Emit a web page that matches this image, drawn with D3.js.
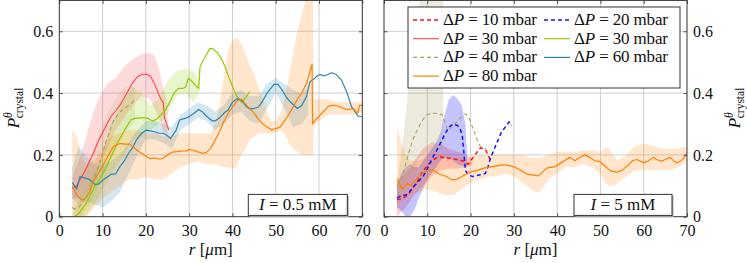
<!DOCTYPE html>
<html>
<head>
<meta charset="utf-8">
<script src="https://cdn.jsdelivr.net/npm/d3@7"></script>
<style>
body { margin: 0; background: #fff; }
svg text { font-family: 'Liberation Serif', serif; fill: #111; }
</style>
</head>
<body>
<svg id="chart" width="747" height="263"></svg>
<script>
// ---- I = 0.5 mM (left panel) ----
var redA_r  = [3,4,5,6,7,8,9,10,11,12,13,14,15,16,17,18,19,20,21,22,23,23.5,24,24.3,25.3];
var redA_p  = [0.09,0.10,0.125,0.15,0.18,0.21,0.245,0.272,0.30,0.325,0.342,0.36,0.385,0.41,0.435,0.452,0.46,0.462,0.455,0.43,0.395,0.38,0.37,0.32,0.28];
var redA_br = [3,5,7,9,11,13,15,17,19,21,22,23,24,25];
var redA_hi = [0.13,0.2,0.3,0.38,0.43,0.45,0.485,0.51,0.525,0.53,0.52,0.48,0.42,0.36];
var redA_lo = [0.06,0.06,0.09,0.15,0.22,0.28,0.32,0.36,0.39,0.38,0.35,0.32,0.28,0.26];

var oliveA_r  = [3,3.5,4.5,5.5,6.5,7.5,8.5,9.5,10.5,11.5,12.5,13.5,14.5,15.5,16.5,17.5];
var oliveA_p  = [0.03,0.025,0.03,0.05,0.07,0.1,0.14,0.18,0.23,0.27,0.31,0.33,0.345,0.355,0.365,0.378];
var oliveA_br = [3,5,7,9,11,13,15,17.5];
var oliveA_hi = [0.08,0.12,0.18,0.26,0.33,0.38,0.42,0.42];
var oliveA_lo = [0.0,0.0,0.04,0.1,0.16,0.22,0.27,0.31];

var greenA_r  = [3.5,4.5,5.5,6.5,7.5,8.5,9.5,10.5,11.5,12.5,13.5,14.5,15.5,16.5,17.5,18.5,19.5,20.5,21.5,22.5,23.5,24.5,25.5,26.5,27.5,28.5,29.2,29.8,30.5,31.5,32.2,32.5,33.5,34.8,35.5,36.7,37.5,38.3,39.2,40.2,41,42.1,43,44];
var greenA_p  = [0.0,0.01,0.03,0.05,0.08,0.105,0.125,0.15,0.18,0.21,0.24,0.265,0.29,0.313,0.318,0.32,0.32,0.318,0.31,0.315,0.33,0.345,0.37,0.40,0.415,0.415,0.42,0.448,0.44,0.425,0.415,0.485,0.512,0.545,0.543,0.528,0.51,0.485,0.45,0.415,0.39,0.37,0.385,0.405];
var greenA_br = [3.5,6,9,12,15,17,19,21,23,25,27,29,31,32.4];
var greenA_hi = [0.03,0.08,0.17,0.3,0.38,0.42,0.4,0.36,0.38,0.44,0.47,0.48,0.47,0.44];
var greenA_lo = [0,0,0.06,0.14,0.2,0.25,0.26,0.28,0.3,0.33,0.39,0.4,0.37,0.4];

var tealA_r  = [3,4,4.8,6,7,8.2,9,10.2,11,12.1,13,14,15,15.9,17,17.8,19,20,21,22,23,24,25,25.7,27,27.8,29,30,31,32.2,33,34,35.4,36,37,38.3,39,40,41,42,43,43.8,45,46,47,48,49.6,50.5,51.5,52.5,53.7,55,56,57.1,57.9,58.8,59.5,60.2,61.3,62.9,64,65.2,66.5,67.5,69,69.8];
var tealA_p  = [0.11,0.09,0.13,0.125,0.12,0.105,0.105,0.12,0.128,0.138,0.138,0.162,0.18,0.203,0.225,0.248,0.27,0.28,0.278,0.275,0.27,0.27,0.262,0.253,0.28,0.313,0.318,0.324,0.333,0.347,0.34,0.325,0.31,0.31,0.32,0.338,0.345,0.37,0.382,0.378,0.36,0.35,0.35,0.355,0.375,0.40,0.428,0.428,0.41,0.385,0.367,0.35,0.36,0.388,0.437,0.445,0.455,0.46,0.456,0.466,0.46,0.442,0.40,0.356,0.326,0.324];
var tealA_br = [3,4.5,6,8,10,12,14,16,18,20,22,24,26,28,30,32,34,36,38,40,42,44,46,48,50,52,54,56,57.5];
var tealA_hi = [0.16,0.23,0.2,0.17,0.17,0.18,0.2,0.24,0.28,0.31,0.31,0.3,0.29,0.33,0.35,0.37,0.36,0.34,0.36,0.4,0.41,0.39,0.39,0.43,0.45,0.43,0.41,0.4,0.42];
var tealA_lo = [0.06,0.04,0.05,0.04,0.03,0.05,0.08,0.14,0.2,0.25,0.25,0.24,0.22,0.28,0.3,0.32,0.31,0.28,0.3,0.33,0.34,0.31,0.3,0.35,0.4,0.35,0.29,0.3,0.33];

var orangeA_r  = [3,4,5.2,6,7,7.9,9,10.2,11,12.5,14,15,16.3,17.9,19,20.2,21,22,23.3,24,25,26.3,27,28,29.4,30,31,32,33.3,34,35,35.9,37,38,39,40.4,41,42.1,43,44,45,46,47,48,49.1,50.2,51,52,53,54,55.2,56,57.1,58.4,58.5,59,60,61,62.2,63,64,65,66,66.8,68,68.5,69,69.3,70];
var orangeA_p  = [0.10,0.07,0.054,0.06,0.08,0.113,0.14,0.17,0.19,0.227,0.237,0.235,0.235,0.216,0.205,0.194,0.188,0.19,0.186,0.19,0.2,0.21,0.21,0.212,0.213,0.218,0.215,0.21,0.205,0.208,0.222,0.245,0.275,0.307,0.335,0.362,0.375,0.38,0.365,0.35,0.335,0.315,0.3,0.29,0.281,0.286,0.29,0.31,0.33,0.355,0.385,0.40,0.43,0.494,0.30,0.31,0.325,0.34,0.358,0.36,0.36,0.355,0.348,0.347,0.35,0.34,0.336,0.36,0.36];
var orangeA_br = [3,4,5,6,8,10,12,14,16,18,20,22,24,26,28,30,32,34,35,36,37,38,39,40,41,42,43,44,45,46,47,48,49,50,51,52,53,54,55,56,57,58.6,58.7,60,62,64,66,68,70];
var orangeA_hi = [0.28,0.26,0.2,0.17,0.18,0.22,0.26,0.27,0.28,0.28,0.27,0.27,0.26,0.26,0.27,0.27,0.27,0.27,0.27,0.3,0.36,0.45,0.54,0.57,0.58,0.56,0.53,0.49,0.46,0.42,0.38,0.34,0.31,0.31,0.33,0.38,0.45,0.53,0.6,0.65,0.71,0.72,0.38,0.38,0.38,0.37,0.37,0.37,0.37];
var orangeA_lo = [0.0,0.0,0.0,0.0,0.03,0.06,0.08,0.1,0.12,0.12,0.13,0.12,0.12,0.14,0.16,0.17,0.18,0.17,0.17,0.17,0.165,0.16,0.16,0.155,0.16,0.2,0.22,0.25,0.26,0.27,0.27,0.27,0.27,0.27,0.28,0.27,0.24,0.22,0.21,0.2,0.2,0.2,0.29,0.31,0.33,0.33,0.33,0.33,0.34];

// ---- I = 5 mM (right panel) ----
var red10_r  = [3,4,5,5.8,6.5,7.7,8.5,9.2,10,11,12.3,13,14,15.4,16.5,17.5,18.5,19,19.5,20.4,21.3,22.3,23.5,24,24.6];
var red10_p  = [0.055,0.058,0.065,0.076,0.09,0.113,0.135,0.151,0.165,0.18,0.192,0.194,0.19,0.189,0.186,0.182,0.18,0.172,0.17,0.189,0.205,0.223,0.216,0.2,0.183];
var red10_br = [3,5,7,9,11,13,15,17,19,20.5];
var red10_hi = [0.12,0.14,0.18,0.22,0.24,0.235,0.22,0.21,0.2,0.19];
var red10_lo = [0.0,0.03,0.07,0.1,0.13,0.15,0.155,0.155,0.16,0.17];

var blue20_r  = [3,4,5,6,7,8,9,10,11,12,13,14,15,16,17,17.7,18.1,18.5,18.8,19.5,20.5,22,23.4,24,24.6,25.5,27,28,28.9,29.5];
var blue20_p  = [0.06,0.068,0.07,0.082,0.1,0.115,0.13,0.155,0.185,0.21,0.237,0.265,0.29,0.30,0.295,0.28,0.26,0.2,0.15,0.135,0.13,0.135,0.14,0.16,0.19,0.22,0.27,0.29,0.307,0.295];
var blue20_br = [3,4,5,6,7,8,10,12,13,14,15,16,17,18,18.8,19.2];
var blue20_hi = [0.1,0.14,0.16,0.17,0.16,0.16,0.2,0.24,0.27,0.33,0.38,0.395,0.38,0.36,0.3,0.2];
var blue20_lo = [0.03,0.02,0.0,0.0,0.02,0.06,0.12,0.16,0.18,0.19,0.19,0.18,0.17,0.165,0.16,0.16];

var olive40_r  = [3,3.85,5,6,6.8,8,9,9.9,11,12,13.4,14,14.6,15.3,16.1,17,18,18.9,19.8,20.8,21.5,22.3,23,23.5];
var olive40_p  = [0.1,0.119,0.17,0.22,0.254,0.29,0.315,0.33,0.335,0.335,0.33,0.31,0.28,0.285,0.297,0.31,0.325,0.333,0.315,0.275,0.25,0.226,0.22,0.22];
var olive40_br = [3,4,5,6,7,8,8.6,13.7];
var olive40_hi = [0.12,0.2,0.33,0.47,0.58,0.68,0.72,0.72];
var olive40_lo = [0.05,0.07,0.1,0.13,0.15,0.18,0.2,0.22];

var orangeB_r  = [3,3.5,4.2,5.4,6.2,7.7,8.5,9.6,10.5,11.5,12.5,13.4,14.5,15.5,16.2,17,18,19.2,20,21.5,23.1,25,27,28,29.9,31,33,35.7,37.6,39.5,41,42.9,44.1,45,46.4,47.5,48.7,49.9,51,52.2,53.7,55,56,57.5,58.5,59.9,61,62.2,63,64.1,65,66.1,67,67.6,68.5,69.3,69.9];
var orangeB_p  = [0.12,0.11,0.09,0.108,0.10,0.124,0.135,0.146,0.152,0.15,0.14,0.135,0.13,0.12,0.119,0.122,0.13,0.14,0.145,0.15,0.157,0.162,0.167,0.168,0.162,0.155,0.138,0.132,0.157,0.162,0.175,0.192,0.181,0.19,0.2,0.192,0.181,0.178,0.165,0.149,0.144,0.15,0.162,0.182,0.185,0.175,0.18,0.192,0.185,0.18,0.185,0.192,0.18,0.174,0.18,0.19,0.205];
var orangeB_br = [3,4,5,6,8,10,12,14,16,18,20,22,24,26,28,30,32,34,35,36,38,40,42,44,46,48,50,51,52,53,54,55,56,58,60,62,64,66,68,70];
var orangeB_hi = [0.29,0.24,0.2,0.18,0.18,0.2,0.21,0.2,0.19,0.19,0.19,0.2,0.2,0.2,0.2,0.2,0.2,0.19,0.19,0.19,0.2,0.21,0.21,0.21,0.215,0.215,0.21,0.225,0.22,0.2,0.18,0.19,0.2,0.23,0.235,0.23,0.22,0.22,0.22,0.23];
var orangeB_lo = [0.03,0.05,0.06,0.07,0.08,0.09,0.08,0.07,0.07,0.09,0.11,0.12,0.13,0.13,0.14,0.13,0.11,0.09,0.08,0.08,0.12,0.14,0.16,0.16,0.17,0.16,0.14,0.11,0.1,0.1,0.11,0.12,0.13,0.15,0.15,0.15,0.15,0.15,0.16,0.18];

var xTicks = [0,10,20,30,40,50,60,70];
var yTicks = [0,0.2,0.4,0.6];
var legendLabels = ["10","20","30","30","40","60","80"];

var FONT = "'Liberation Serif', serif";

// styles
var C = {
  red10: "#ff1010", blue20: "#1414ff", red30: "#ff4545", green30: "#8fcc00",
  olive40: "#a8a060", teal60: "#2b87b1", orange80: "#ff8000"
};

function pts(r, v) { return r.map(function(d, i) { return [d, v[i]]; }); }
function band(r, lo, hi) { return r.map(function(d, i) { return [d, lo[i], hi[i]]; }); }

var panelA = [
  {line: pts(redA_r, redA_p), band: band(redA_br, redA_lo, redA_hi), color: C.red30, op: 0.2, w: 1.1},
  {line: pts(oliveA_r, oliveA_p), band: band(oliveA_br, oliveA_lo, oliveA_hi), color: C.olive40, op: 0.15, w: 1.1, dash: "4,3"},
  {line: pts(greenA_r, greenA_p), band: band(greenA_br, greenA_lo, greenA_hi), color: C.green30, op: 0.2, w: 1.2},
  {line: pts(tealA_r, tealA_p), band: band(tealA_br, tealA_lo, tealA_hi), color: C.teal60, op: 0.2, w: 1.2},
  {line: pts(orangeA_r, orangeA_p), band: band(orangeA_br, orangeA_lo, orangeA_hi), color: C.orange80, op: 0.2, w: 1.2}
];
var panelB = [
  {line: pts(red10_r, red10_p), band: band(red10_br, red10_lo, red10_hi), color: C.red10, op: 0.2, w: 1.5, dash: "4,3"},
  {line: pts(blue20_r, blue20_p), band: band(blue20_br, blue20_lo, blue20_hi), color: C.blue20, op: 0.25, w: 1.5, dash: "4,3"},
  {line: pts(olive40_r, olive40_p), band: band(olive40_br, olive40_lo, olive40_hi), color: C.olive40, op: 0.22, w: 1.1, dash: "4,3"},
  {line: pts(orangeB_r, orangeB_p), band: band(orangeB_br, orangeB_lo, orangeB_hi), color: C.orange80, op: 0.2, w: 1.2}
];

var svg = d3.select("#chart");
var W = 303, H = 216.3;
var x = d3.scaleLinear().domain([0, 70]).range([0, W]);
var y = d3.scaleLinear().domain([0, 0.7]).range([H, 0]);

var line = d3.line().x(function(d) { return x(d[0]); }).y(function(d) { return y(d[1]); });
var area = d3.area().x(function(d) { return x(d[0]); })
  .y0(function(d) { return y(d[1]); }).y1(function(d) { return y(d[2]); });

function txt(sel) { return sel.append("text").style("font-family", FONT); }

function yLabel(g, tx, ty) {
  var t = txt(g).attr("transform", "translate(" + tx + "," + ty + ") rotate(-90)")
    .attr("text-anchor", "middle").style("font-size", "17px");
  t.append("tspan").style("font-style", "italic").text("P");
  t.append("tspan").style("font-style", "italic").style("font-size", "11.5px").attr("dy", -7).text("θ");
  t.append("tspan").style("font-size", "11.5px").attr("dx", -6).attr("dy", 11).text("crystal");
}

function drawPanel(ox, series, id, side, note) {
  var g = svg.append("g").attr("transform", "translate(" + ox + ",0.4)");
  g.append("clipPath").attr("id", id).append("rect").attr("width", W).attr("height", H);

  // grid
  g.append("g").selectAll("line").data(xTicks.slice(1, -1)).join("line")
    .attr("x1", x).attr("x2", x).attr("y1", 0).attr("y2", H)
    .attr("stroke", "#cfcfcf").attr("stroke-width", 1);
  g.append("g").selectAll("line").data(yTicks.slice(1)).join("line")
    .attr("y1", y).attr("y2", y).attr("x1", 0).attr("x2", W)
    .attr("stroke", "#cfcfcf").attr("stroke-width", 1);

  var plot = g.append("g").attr("clip-path", "url(#" + id + ")");
  series.forEach(function(s) {
    plot.append("path").attr("d", area(s.band)).attr("fill", s.color).attr("fill-opacity", s.op);
  });
  series.forEach(function(s) {
    plot.append("path").attr("d", line(s.line)).attr("fill", "none")
      .attr("stroke", s.color).attr("stroke-width", s.w)
      .attr("stroke-dasharray", s.dash || null).attr("stroke-linejoin", "round");
  });

  // axes
  var fmt = function(d) { return d === 0 ? "0" : d3.format(".1f")(d); };
  var xa = g.append("g").attr("transform", "translate(0," + H + ")")
    .call(d3.axisBottom(x).tickValues(xTicks).tickSize(-3.5).tickPadding(8).tickFormat(d3.format("d")));
  var xt = g.append("g").call(d3.axisTop(x).tickValues(xTicks).tickSize(-3.5).tickFormat(""));
  var yl = g.append("g").call(d3.axisLeft(y).tickValues(yTicks).tickSize(-3.5).tickPadding(6).tickFormat(fmt));
  var yr = g.append("g").attr("transform", "translate(" + W + ",0)")
    .call(d3.axisRight(y).tickValues(yTicks).tickSize(-3.5).tickPadding(6).tickFormat(fmt));
  if (side === "left") yr.selectAll("text").remove(); else yl.selectAll("text").remove();
  [xa, xt, yl, yr].forEach(function(a) {
    a.attr("font-family", null).attr("font-size", null);
    a.select(".domain").remove();
    a.selectAll("line").attr("stroke", "#555");
    a.selectAll("text").style("font-family", FONT).style("font-size", "16px").attr("fill", "#111");
  });
  g.append("rect").attr("width", W).attr("height", H).attr("fill", "none").attr("stroke", "#333").attr("stroke-width", 1);

  // x label
  var t = txt(g).attr("x", W / 2).attr("y", 254.5).attr("text-anchor", "middle").style("font-size", "17px");
  t.append("tspan").style("font-style", "italic").text("r");
  t.append("tspan").text(" [");
  t.append("tspan").style("font-style", "italic").text("μ");
  t.append("tspan").text("m]");

  // annotation box
  var bx = note.x, bw = note.w;
  g.append("rect").attr("x", bx + 1.5).attr("y", 195.5).attr("width", bw).attr("height", 21).attr("fill", "#aaa");
  g.append("rect").attr("x", bx).attr("y", 194).attr("width", bw).attr("height", 21).attr("fill", "#fff").attr("stroke", "#333");
  var n = txt(g).attr("x", bx + bw / 2).attr("y", 210).attr("text-anchor", "middle").style("font-size", "17px");
  n.append("tspan").style("font-style", "italic").text("I");
  n.append("tspan").text(" = " + note.val + " mM");
  return g;
}

drawPanel(59.3, panelA, "clipA", "left", {x: 189, w: 99, val: "0.5"});
drawPanel(384, panelB, "clipB", "right", {x: 190, w: 98, val: "5"});

yLabel(svg, 19, 108);
yLabel(svg, 740, 108);

// legend
var legItems = [
  {c: C.red10, dash: "4,3", w: 1.5}, {c: C.blue20, dash: "4,3", w: 1.5},
  {c: C.red30, w: 1.1}, {c: C.green30, w: 1.2},
  {c: C.olive40, dash: "4,3", w: 1.1}, {c: C.teal60, w: 1.2},
  {c: C.orange80, w: 1.2}
];
var leg = svg.append("g");
leg.append("rect").attr("x", 408).attr("y", 7).attr("width", 272).attr("height", 81)
  .attr("fill", "#fff").attr("stroke", "#333");
legItems.forEach(function(it, i) {
  var col = i % 2, row = Math.floor(i / 2);
  var lx = col === 0 ? 413 : 544, ly = 20 + row * 18.7;
  leg.append("line").attr("x1", lx).attr("x2", lx + 26).attr("y1", ly).attr("y2", ly)
    .attr("stroke", it.c).attr("stroke-width", it.w).attr("stroke-dasharray", it.dash || null);
  var t = txt(leg).attr("x", lx + 30).attr("y", ly + 5).style("font-size", "17px")
    .attr("textLength", 94).attr("lengthAdjust", "spacing");
  t.append("tspan").text("Δ");
  t.append("tspan").style("font-style", "italic").text("P");
  t.append("tspan").text(" = " + legendLabels[i] + " mbar");
});
</script>
</body>
</html>
